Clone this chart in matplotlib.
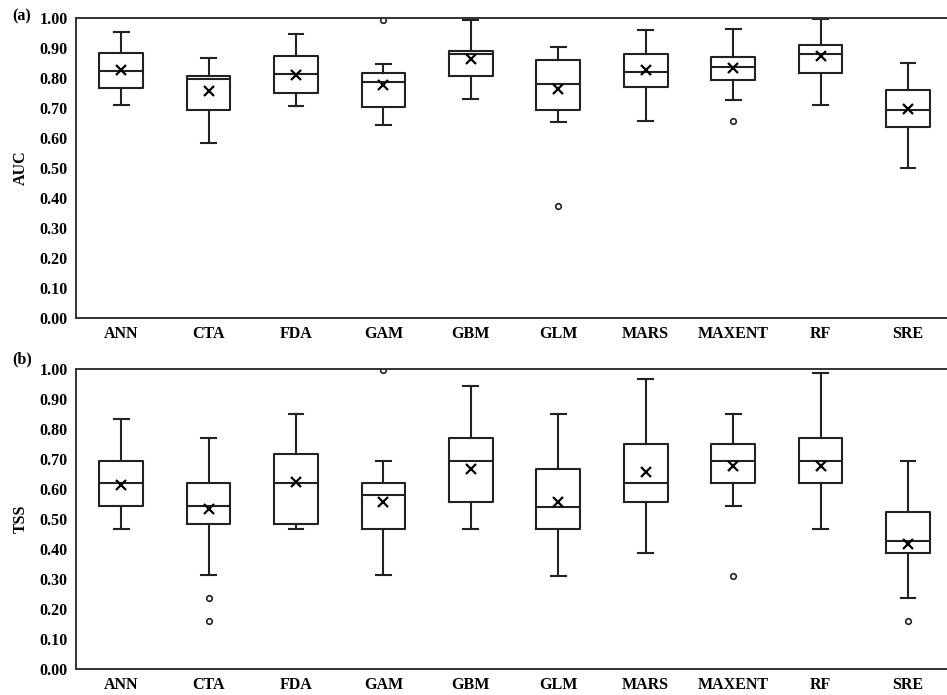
import matplotlib
matplotlib.use("Agg")
import matplotlib.pyplot as plt
from matplotlib.ticker import FormatStrFormatter

plt.rcParams['font.family'] = ['Liberation Serif', 'DejaVu Serif']
plt.rcParams['font.weight'] = 'bold'
plt.rcParams['font.size'] = 11.5

models = ['ANN', 'CTA', 'FDA', 'GAM', 'GBM', 'GLM', 'MARS', 'MAXENT', 'RF', 'SRE']

# AUC box stats
auc_whislo = [0.710, 0.584, 0.706, 0.643, 0.731, 0.652, 0.656, 0.726, 0.709, 0.501]
auc_q1     = [0.766, 0.694, 0.749, 0.703, 0.808, 0.693, 0.769, 0.793, 0.818, 0.637]
auc_med    = [0.824, 0.797, 0.813, 0.787, 0.880, 0.779, 0.820, 0.836, 0.881, 0.694]
auc_q3     = [0.882, 0.808, 0.872, 0.816, 0.891, 0.861, 0.881, 0.871, 0.911, 0.760]
auc_whishi = [0.955, 0.868, 0.948, 0.848, 0.993, 0.904, 0.961, 0.964, 0.998, 0.849]
auc_mean   = [0.828, 0.756, 0.810, 0.776, 0.862, 0.765, 0.826, 0.832, 0.872, 0.697]
auc_fliers = [[], [], [], [0.995], [], [0.372], [], [0.657], [], []]

# TSS box stats
tss_whislo = [0.467, 0.312, 0.466, 0.312, 0.467, 0.311, 0.388, 0.543, 0.466, 0.235]
tss_q1     = [0.543, 0.484, 0.484, 0.466, 0.558, 0.466, 0.558, 0.619, 0.619, 0.387]
tss_med    = [0.619, 0.543, 0.619, 0.580, 0.694, 0.541, 0.619, 0.694, 0.694, 0.427]
tss_q3     = [0.694, 0.619, 0.717, 0.619, 0.770, 0.665, 0.751, 0.751, 0.770, 0.522]
tss_whishi = [0.834, 0.771, 0.850, 0.694, 0.942, 0.850, 0.965, 0.850, 0.987, 0.694]
tss_mean   = [0.614, 0.533, 0.622, 0.558, 0.668, 0.555, 0.658, 0.675, 0.675, 0.417]
tss_fliers = [[], [0.235, 0.159], [], [0.995], [], [], [], [0.311], [], [0.159]]


def make_stats(lo, q1, med, q3, hi, mean, fliers):
    stats = []
    for k in range(len(models)):
        stats.append({'whislo': lo[k], 'q1': q1[k], 'med': med[k], 'q3': q3[k],
                      'whishi': hi[k], 'mean': mean[k], 'fliers': fliers[k]})
    return stats


lc = '#222222'
lw = 1.5


def draw(ax, stats, ylabel):
    ax.bxp(stats, positions=range(1, len(models) + 1), widths=0.5,
           capwidths=0.17, showmeans=True,
           boxprops=dict(color=lc, linewidth=lw),
           whiskerprops=dict(color=lc, linewidth=lw),
           capprops=dict(color=lc, linewidth=lw),
           medianprops=dict(color=lc, linewidth=lw),
           meanprops=dict(marker='x', markeredgecolor='black', markersize=7,
                          markeredgewidth=1.6),
           flierprops=dict(marker='o', markerfacecolor='none',
                           markeredgecolor=lc, markersize=4, markeredgewidth=1.2))
    ax.set_xlim(0.485, 10.446)
    ax.set_ylim(0, 1.0)
    ax.set_yticks([i / 10 for i in range(11)])
    ax.yaxis.set_major_formatter(FormatStrFormatter('%.2f'))
    ax.set_xticks(range(1, len(models) + 1))
    ax.set_xticklabels(models)
    ax.tick_params(axis='y', length=0, pad=6)
    ax.tick_params(axis='x', length=0, pad=6)
    ax.set_ylabel(ylabel, labelpad=8, fontweight='bold')
    ax.spines['right'].set_visible(False)
    for s in ['left', 'top', 'bottom']:
        ax.spines[s].set_color('#333333')
        ax.spines[s].set_linewidth(1.4)


fig = plt.figure(figsize=(9.47, 6.95), dpi=100)
ax1 = fig.add_axes([0.0803, 0.5424, 0.9197, 0.4317])
ax2 = fig.add_axes([0.0803, 0.0374, 0.9197, 0.4317])

draw(ax1, make_stats(auc_whislo, auc_q1, auc_med, auc_q3, auc_whishi, auc_mean, auc_fliers), 'AUC')
draw(ax2, make_stats(tss_whislo, tss_q1, tss_med, tss_q3, tss_whishi, tss_mean, tss_fliers), 'TSS')

fig.text(12 / 947, 1 - 16 / 695, '(a)', ha='left', va='center', fontweight='bold')
fig.text(12 / 947, 1 - 359 / 695, '(b)', ha='left', va='center', fontweight='bold')

fig.savefig('out.png', dpi=100)
